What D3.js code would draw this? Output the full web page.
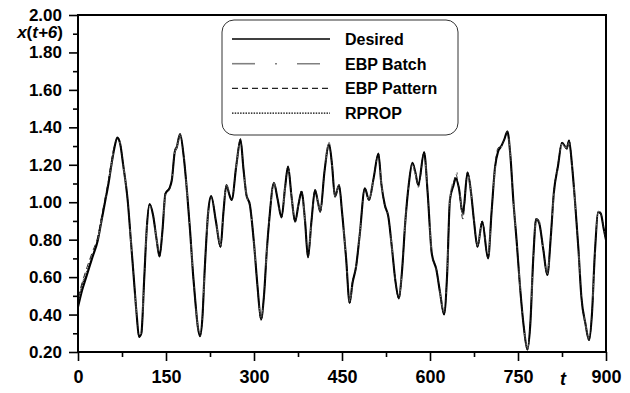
<!DOCTYPE html>
<html><head><meta charset="utf-8">
<script src="https://cdn.jsdelivr.net/npm/d3@7"></script>
<style>
body{margin:0;background:#fff}
svg{display:block}
text{font-family:"Liberation Sans",Arial,sans-serif;font-weight:bold;fill:#000}
</style>
</head><body><svg id="c" width="630" height="393"></svg>
<script>
const tValues = [0,7,14,24,34,40,46,52,57,62,67,72,77,85,90,95,100,104,108,113,117,122,128,134,139,144,149,156,160,165,168,174,180,186,191,196,200,204,208,212,216,222,227,235,243,248,253,258,262,270,277,282,287,293,300,306,312,317,322,326,334,340,347,353,358,364,370,376,381,387,392,398,404,409,413,420,428,433,438,445,450,457,463,468,474,480,489,496,504,512,517,523,529,535,541,547,552,558,564,570,575,580,590,596,603,611,617,624,629,634,640,644,649,656,664,670,675,681,689,699,705,711,716,721,726,732,737,742,748,753,760,766,771,776,781,786,793,800,806,811,818,825,833,837,842,847,853,858,865,871,876,881,887,891,896,900];

const desired = [0.44,0.53,0.60,0.70,0.80,0.90,1.00,1.10,1.20,1.29,1.345,1.31,1.20,1.00,0.80,0.60,0.40,0.28,0.30,0.60,0.85,0.99,0.93,0.80,0.71,0.85,1.045,1.075,1.12,1.27,1.29,1.364,1.25,1.05,0.85,0.62,0.47,0.34,0.285,0.38,0.64,0.95,1.033,0.90,0.762,0.95,1.092,1.04,1.012,1.20,1.335,1.18,1.04,0.985,0.78,0.55,0.374,0.50,0.75,0.905,1.104,1.02,0.919,1.08,1.19,1.03,0.896,0.99,1.056,0.90,0.706,0.90,1.065,1.00,0.949,1.16,1.311,1.20,1.03,1.092,0.95,0.70,0.463,0.57,0.656,0.82,1.074,1.012,1.13,1.26,1.10,0.985,0.923,0.76,0.58,0.486,0.62,0.90,1.10,1.21,1.16,1.092,1.267,1.05,0.727,0.638,0.52,0.40,0.60,1.012,1.09,1.128,1.08,0.94,1.158,1.05,0.90,0.762,0.896,0.70,0.95,1.19,1.27,1.296,1.33,1.377,1.25,1.012,0.78,0.567,0.33,0.214,0.35,0.70,0.91,0.89,0.75,0.611,0.82,1.047,1.19,1.318,1.288,1.329,1.20,1.012,0.75,0.495,0.35,0.264,0.40,0.727,0.949,0.94,0.86,0.798];

const ebpBatch = [0.47,0.56,0.63,0.72,0.81,0.91,1.01,1.11,1.21,1.30,1.34,1.31,1.20,1.00,0.80,0.60,0.40,0.29,0.31,0.60,0.85,0.98,0.93,0.80,0.72,0.85,1.04,1.08,1.12,1.27,1.29,1.36,1.25,1.05,0.85,0.62,0.47,0.34,0.29,0.38,0.64,0.95,1.03,0.90,0.77,0.95,1.09,1.05,1.01,1.20,1.33,1.18,1.04,0.98,0.78,0.55,0.38,0.50,0.75,0.90,1.10,1.02,0.92,1.08,1.19,1.03,0.90,0.99,1.05,0.90,0.71,0.90,1.06,1.00,0.95,1.16,1.32,1.20,1.03,1.09,0.95,0.70,0.47,0.57,0.66,0.82,1.07,1.01,1.13,1.25,1.10,0.98,0.92,0.76,0.58,0.49,0.62,0.90,1.10,1.20,1.15,1.09,1.26,1.05,0.73,0.64,0.52,0.41,0.60,1.02,1.12,1.18,1.10,0.93,1.15,1.05,0.90,0.77,0.89,0.71,0.95,1.18,1.27,1.29,1.34,1.37,1.25,1.01,0.78,0.57,0.33,0.22,0.35,0.70,0.91,0.90,0.75,0.62,0.82,1.04,1.19,1.31,1.29,1.32,1.20,1.01,0.75,0.50,0.35,0.27,0.40,0.72,0.95,0.95,0.86,0.80];

const ebpPattern = [0.49,0.57,0.64,0.73,0.82,0.92,1.02,1.12,1.22,1.30,1.34,1.31,1.20,1.00,0.80,0.60,0.40,0.28,0.30,0.60,0.85,0.99,0.93,0.80,0.71,0.85,1.05,1.07,1.12,1.28,1.30,1.36,1.25,1.05,0.85,0.62,0.47,0.34,0.28,0.38,0.64,0.95,1.03,0.90,0.76,0.95,1.09,1.04,1.01,1.20,1.34,1.18,1.04,0.98,0.78,0.55,0.37,0.50,0.75,0.91,1.10,1.02,0.92,1.08,1.19,1.03,0.89,0.99,1.06,0.90,0.70,0.90,1.07,1.00,0.95,1.16,1.30,1.20,1.03,1.09,0.95,0.70,0.46,0.58,0.65,0.82,1.08,1.01,1.13,1.26,1.10,0.98,0.92,0.76,0.58,0.48,0.62,0.90,1.10,1.21,1.16,1.08,1.26,1.05,0.72,0.64,0.52,0.40,0.60,1.01,1.10,1.15,1.08,0.91,1.16,1.05,0.90,0.76,0.90,0.70,0.95,1.20,1.29,1.30,1.33,1.38,1.25,1.01,0.78,0.56,0.33,0.21,0.35,0.70,0.92,0.89,0.75,0.61,0.82,1.05,1.20,1.32,1.28,1.33,1.20,1.01,0.75,0.49,0.35,0.26,0.40,0.73,0.94,0.94,0.86,0.79];

const rprop = [0.46,0.55,0.62,0.71,0.81,0.91,1.01,1.11,1.21,1.29,1.34,1.31,1.20,1.00,0.80,0.60,0.40,0.28,0.30,0.60,0.85,0.99,0.93,0.80,0.71,0.85,1.05,1.08,1.12,1.27,1.29,1.36,1.25,1.05,0.85,0.62,0.47,0.34,0.29,0.38,0.64,0.95,1.03,0.90,0.76,0.95,1.09,1.04,1.01,1.20,1.33,1.18,1.04,0.99,0.78,0.55,0.37,0.50,0.75,0.91,1.10,1.02,0.92,1.08,1.19,1.03,0.90,0.99,1.06,0.90,0.71,0.90,1.06,1.00,0.95,1.16,1.31,1.20,1.03,1.09,0.95,0.70,0.46,0.57,0.66,0.82,1.07,1.01,1.13,1.26,1.10,0.98,0.92,0.76,0.58,0.49,0.62,0.90,1.10,1.21,1.16,1.09,1.27,1.05,0.73,0.64,0.52,0.40,0.60,1.01,1.09,1.13,1.08,0.94,1.16,1.05,0.90,0.76,0.90,0.70,0.95,1.19,1.27,1.30,1.33,1.37,1.25,1.01,0.78,0.57,0.33,0.22,0.35,0.70,0.91,0.89,0.75,0.61,0.82,1.05,1.19,1.32,1.29,1.33,1.20,1.01,0.75,0.50,0.35,0.27,0.40,0.73,0.95,0.94,0.86,0.80];

const seriesNames = ["Desired","EBP Batch","EBP Pattern","RPROP"];
const xMajorTicks = [0,150,300,450,600,750,900];
const xMinorTicks = [75,225,375,525,675,825];
const yMajorTicks = [0.2,0.4,0.6,0.8,1.0,1.2,1.4,1.6,1.8,2.0];
const yMinorTicks = [0.3,0.5,0.7,0.9,1.1,1.3,1.5,1.7,1.9];

const svg = d3.select("#c");
const L = 78, R = 606, T = 15, B = 352;
const x = d3.scaleLinear().domain([0, 900]).range([L, R]);
const y = d3.scaleLinear().domain([0.2, 2.0]).range([B, T]);

const styles = [
  {color:"#000", width:2.1, dash:null},
  {color:"#808080", width:1.3, dash:"23,20,2,20"},
  {color:"#222", width:1, dash:"6,4"},
  {color:"#000", width:0.9, dash:"1.5,1.2"}
];
const seriesData = [desired, ebpBatch, ebpPattern, rprop];

const line = d3.line().x(d => x(d[0])).y(d => y(d[1])).curve(d3.curveMonotoneX);

svg.append("defs").append("clipPath").attr("id","clip")
  .append("rect").attr("x",L).attr("y",T).attr("width",R-L).attr("height",B-T);

const plot = svg.append("g").attr("clip-path","url(#clip)");
seriesData.forEach((vals, i) => {
  const pts = tValues.map((t, k) => [t, vals[k]]);
  plot.append("path").datum(pts)
    .attr("d", line)
    .attr("fill","none")
    .attr("stroke", styles[i].color)
    .attr("stroke-width", styles[i].width)
    .attr("stroke-dasharray", styles[i].dash)
    .attr("stroke-linejoin","round");
});

// axes
svg.append("g").attr("transform",`translate(0,${B})`)
  .call(d3.axisBottom(x).tickValues(xMajorTicks).tickSize(9).tickPadding(9).tickFormat(d3.format("d")))
  .selectAll("text").attr("font-size",18);
svg.append("g").attr("transform",`translate(0,${B})`)
  .call(d3.axisBottom(x).tickValues(xMinorTicks).tickSize(5).tickFormat(""));
svg.append("g").attr("transform",`translate(${L},0)`)
  .call(d3.axisLeft(y).tickValues(yMajorTicks).tickSize(9).tickPadding(7).tickFormat(d3.format(".2f")))
  .selectAll("text").attr("font-size",17);
svg.append("g").attr("transform",`translate(${L},0)`)
  .call(d3.axisLeft(y).tickValues(yMinorTicks).tickSize(5).tickFormat(""));

svg.selectAll(".domain").remove();
svg.selectAll(".tick line").attr("stroke","#000").attr("stroke-width",1.6);
svg.selectAll(".tick text").attr("font-family",'"Liberation Sans",Arial,sans-serif').attr("font-weight","bold").attr("fill","#000");

// frame
svg.append("rect").attr("x",L).attr("y",T).attr("width",R-L).attr("height",B-T)
  .attr("fill","none").attr("stroke","#000").attr("stroke-width",2);

// axis titles
const yt = svg.append("text").attr("x",63).attr("y",38).attr("text-anchor","end").attr("font-size",17);
yt.append("tspan").attr("font-style","italic").text("x");
yt.append("tspan").text("(");
yt.append("tspan").attr("font-style","italic").text("t+6");
yt.append("tspan").text(")");
svg.append("text").attr("x",563).attr("y",385).attr("text-anchor","middle")
  .attr("font-size",18).attr("font-style","italic").text("t");

// legend
const lg = svg.append("g");
lg.append("rect").attr("x",222).attr("y",20).attr("width",236).attr("height",115)
  .attr("rx",12).attr("ry",12).attr("fill","#fff").attr("stroke","#333").attr("stroke-width",1);
seriesNames.forEach((name, i) => {
  const yy = 39 + i * 24.7;
  lg.append("line").attr("x1",232).attr("x2",330).attr("y1",yy).attr("y2",yy)
    .attr("stroke", styles[i].color).attr("stroke-width", i===0?1.5:(i===1?1.6:1.1))
    .attr("stroke-dasharray", styles[i].dash);
  lg.append("text").attr("x",345).attr("y",yy+6).attr("font-size",16).text(name);
});
</script>
</body></html>
